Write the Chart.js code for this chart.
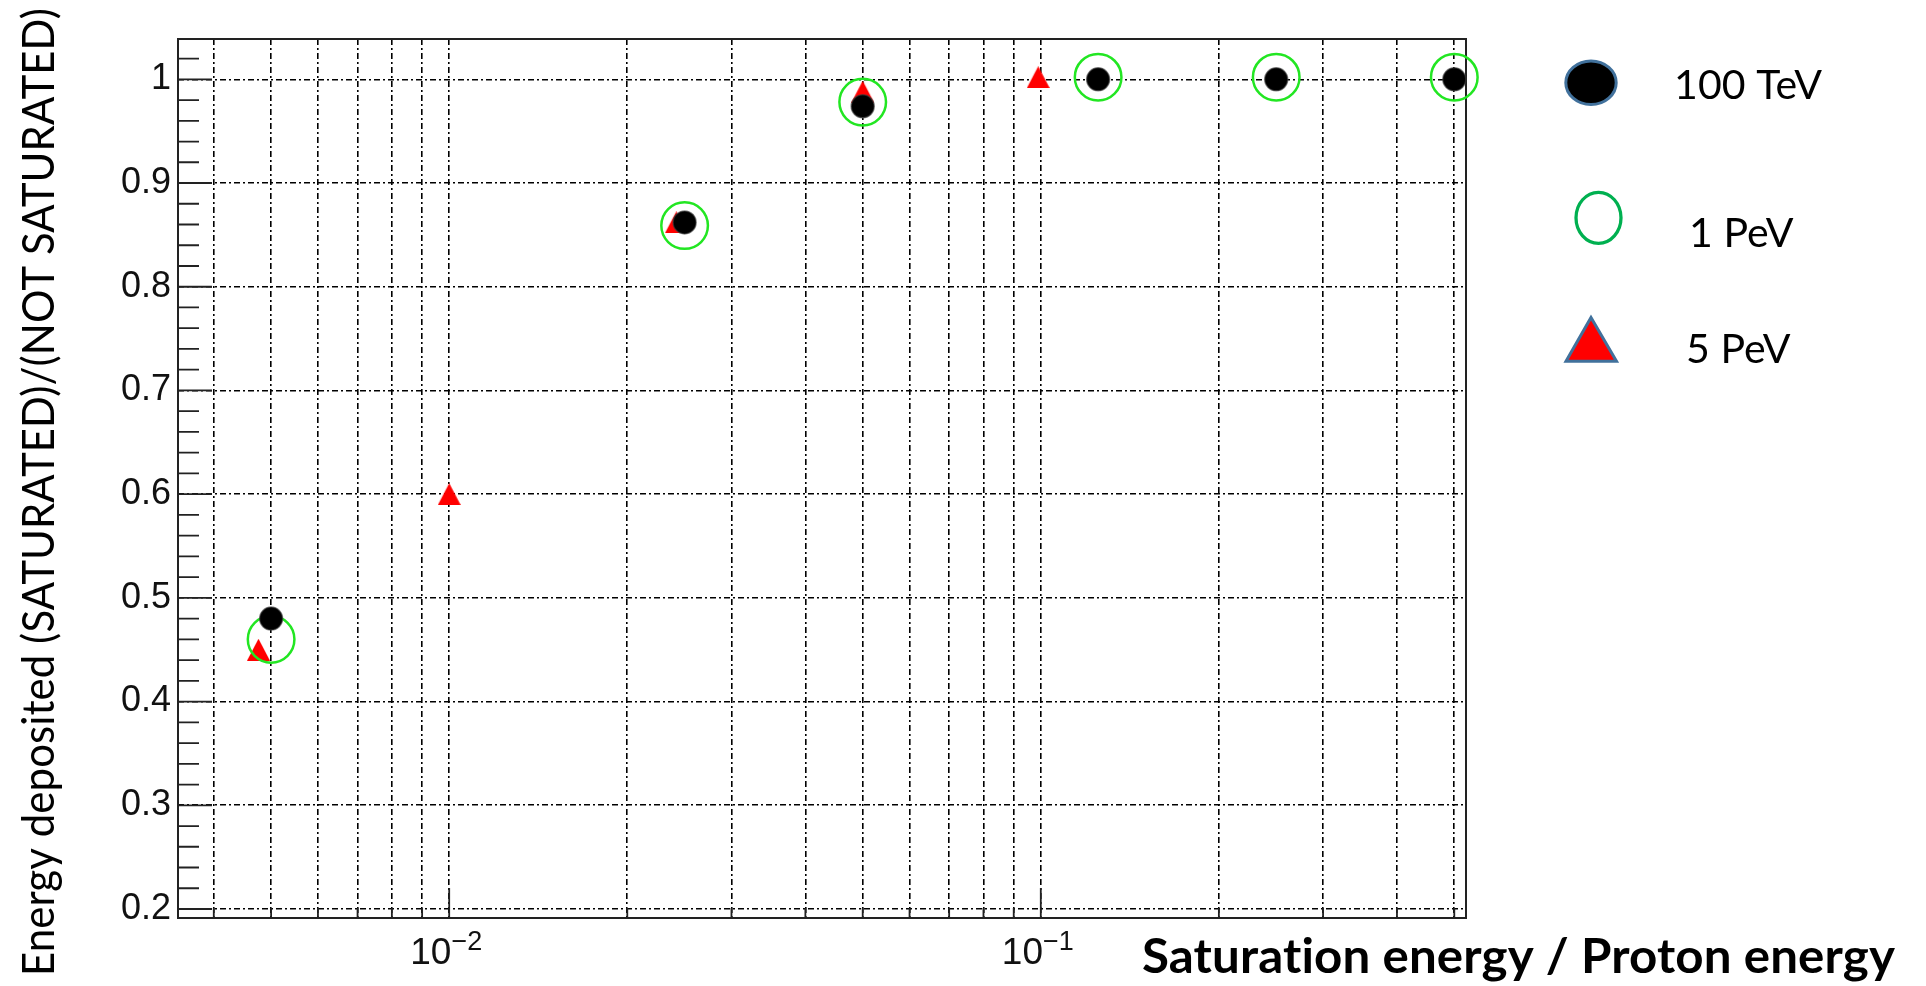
<!DOCTYPE html>
<html>
<head>
<meta charset="utf-8">
<script src="https://cdn.jsdelivr.net/npm/chart.js@4.4.0/dist/chart.umd.min.js"></script>
<style>
html,body{margin:0;padding:0;background:#fff;}
#wrap{position:relative;width:1926px;height:986px;}
</style>
</head>
<body>
<div id="wrap"><canvas id="myChart"></canvas></div>
<script>
// values (x = saturation energy / proton energy)
const tevX = [0.005, 0.025, 0.05, 0.125, 0.25, 0.5];
const tevY = [0.48, 0.862, 0.974, 1.0, 1.0, 1.0];
const onePevX = [0.005, 0.025, 0.05, 0.125, 0.25, 0.5];
const onePevY = [0.46, 0.859, 0.978, 1.002, 1.002, 1.002];
const fivePevX = [0.00476, 0.01, 0.0242, 0.05, 0.099];
const fivePevY = [0.45, 0.6, 0.862, 0.988, 1.002];
const seriesNames = ["100 TeV", "1 PeV", "5 PeV"];

const yTicks = [0.2, 0.3, 0.4, 0.5, 0.6, 0.7, 0.8, 0.9, 1];
const xGridTicks = [0.004, 0.005, 0.006, 0.007, 0.008, 0.009, 0.01,
  0.02, 0.03, 0.04, 0.05, 0.06, 0.07, 0.08, 0.09, 0.1, 0.2, 0.3, 0.4, 0.5];
const xDecades = [0.01, 0.1];
const xDecadeExp = ["\u22122", "\u22121"];
const xTitle = "Saturation energy / Proton energy";
const yTitle = "Energy deposited (SATURATED)/(NOT SATURATED)";

function pts(xs, ys) {
  return xs.map((x, i) => ({x: x, y: ys[i]}));
}

// ROOT style up-triangle, centred on its box
function triangleMarker(w, h, color) {
  let c = document.createElement('canvas');
  c.width = w; c.height = h;
  let g = c.getContext('2d');
  g.fillStyle = color;
  g.beginPath();
  g.moveTo(w / 2, 0);
  g.lineTo(w, h);
  g.lineTo(0, h);
  g.closePath();
  g.fill();
  return c;
}

const rootFrame = {
  id: 'rootFrame',
  beforeDatasetsDraw(chart) {
    const ctx = chart.ctx, a = chart.chartArea;
    const x = chart.scales.x, y = chart.scales.y;
    ctx.save();
    ctx.strokeStyle = '#222';
    ctx.lineWidth = 2;
    ctx.strokeRect(a.left, a.top, a.right - a.left, a.bottom - a.top);
    ctx.lineWidth = 1.8;
    ctx.beginPath();
    for (let i = 10; i <= 51; i++) {
      let v = i * 0.02;
      let py = y.getPixelForValue(v);
      let major = i % 5 === 0;
      ctx.moveTo(a.left, py);
      ctx.lineTo(a.left + (major ? 34 : 21), py);
    }
    xGridTicks.forEach(v => {
      let px = x.getPixelForValue(v);
      let major = xDecades.includes(v);
      ctx.moveTo(px, a.bottom);
      ctx.lineTo(px, a.bottom - (major ? 30 : 10));
    });
    ctx.stroke();
    ctx.restore();
  },
  afterDraw(chart) {
    const ctx = chart.ctx;
    const x = chart.scales.x;
    ctx.save();
    ctx.fillStyle = '#111';
    ctx.textBaseline = 'alphabetic';
    ctx.textAlign = 'left';

    // 10^-n labels
    xDecades.forEach((v, i) => {
      let px = x.getPixelForValue(v);
      ctx.font = '37px "Liberation Sans"';
      let w1 = ctx.measureText('10').width;
      ctx.font = '27px "Liberation Sans"';
      let w2 = ctx.measureText(xDecadeExp[i]).width;
      let left = px - 3 - (w1 + w2) / 2;
      ctx.font = '37px "Liberation Sans"';
      ctx.fillText('10', left, 964);
      ctx.font = '27px "Liberation Sans"';
      ctx.fillText(xDecadeExp[i], left + w1, 950);
    });

    // axis titles
    ctx.fillStyle = '#000';
    ctx.textAlign = 'center';
    ctx.letterSpacing = '0.1px';
    ctx.save();
    ctx.translate(1518.5, 973);
    ctx.font = 'bold 47px Lato';
    let tw = ctx.measureText(xTitle).width;
    ctx.scale(753 / tw, 1);
    ctx.fillText(xTitle, 0, 0);
    ctx.restore();

    ctx.save();
    ctx.translate(53.5, 492);
    ctx.rotate(-Math.PI / 2);
    ctx.font = '44px Lato';
    let yw = ctx.measureText(yTitle).width;
    ctx.scale(968 / yw, 1);
    ctx.fillText(yTitle, 0, 0);
    ctx.restore();

    // legend
    const names = chart.data.datasets.map(d => d.label);
    ctx.textAlign = 'left';
    ctx.font = '41px Lato';
    ctx.lineWidth = 3;

    ctx.beginPath();
    ctx.ellipse(1591, 82.7, 25.2, 21.8, 0, 0, 2 * Math.PI);
    ctx.fillStyle = '#000';
    ctx.fill();
    ctx.strokeStyle = '#41719c';
    ctx.stroke();
    ctx.fillText(names[0], 1674, 99.3);

    ctx.beginPath();
    ctx.ellipse(1598.5, 217.8, 22.5, 25.5, 0, 0, 2 * Math.PI);
    ctx.lineWidth = 3.3;
    ctx.strokeStyle = '#00b050';
    ctx.stroke();
    ctx.fillText(names[1], 1689, 246.7);

    ctx.beginPath();
    ctx.moveTo(1591, 317.5);
    ctx.lineTo(1616.5, 361.2);
    ctx.lineTo(1566, 361.2);
    ctx.closePath();
    ctx.fillStyle = '#ff0000';
    ctx.fill();
    ctx.lineWidth = 3;
    ctx.strokeStyle = '#41719c';
    ctx.stroke();
    ctx.fillStyle = '#000';
    ctx.fillText(names[2], 1686, 362.7);
    ctx.restore();
  }
};

new Chart("myChart", {
  type: "scatter",
  data: {
    datasets: [{
      label: seriesNames[0],
      data: pts(tevX, tevY),
      pointStyle: 'circle',
      pointRadius: 11.5,
      pointBorderWidth: 1.5,
      backgroundColor: '#000',
      borderColor: 'rgba(60,60,60,0.6)',
      clip: false
    }, {
      label: seriesNames[1],
      data: pts(onePevX, onePevY),
      pointStyle: 'circle',
      pointRadius: 23.3,
      pointBorderWidth: 2.5,
      backgroundColor: 'rgba(0,0,0,0)',
      borderColor: '#22e622',
      clip: false
    }, {
      label: seriesNames[2],
      data: pts(fivePevX, fivePevY),
      pointStyle: triangleMarker(23, 22, '#ff0000'),
      pointRadius: 12,
      backgroundColor: '#ff0000',
      borderColor: '#ff0000',
      clip: false
    }]
  },
  options: {
    responsive: true,
    maintainAspectRatio: false,
    devicePixelRatio: 1,
    animation: false,
    events: [],
    layout: {padding: {top: 39, right: 460, bottom: 0, left: 0}},
    plugins: {legend: {display: false}, tooltip: {enabled: false}},
    scales: {
      x: {
        type: 'logarithmic',
        min: 0.00348,
        max: 0.5233,
        afterFit(s) { s.height = 68; },
        afterBuildTicks(s) { s.ticks = xGridTicks.map(v => ({value: v})); },
        grid: {color: '#000', lineWidth: 1.6, drawTicks: false},
        border: {display: false, dash: [6, 3, 2, 3]},
        ticks: {display: false}
      },
      y: {
        type: 'linear',
        min: 0.19132,
        max: 1.03886,
        afterFit(s) { s.width = 178; },
        afterBuildTicks(s) { s.ticks = yTicks.map(v => ({value: v})); },
        grid: {color: '#000', lineWidth: 1.6, drawTicks: false},
        border: {display: false, dash: [6, 3, 2, 3]},
        ticks: {
          font: {family: 'Liberation Sans', size: 36},
          color: '#111',
          padding: 7,
          callback: v => String(v)
        }
      }
    }
  },
  plugins: [rootFrame]
});
</script>
</body>
</html>
